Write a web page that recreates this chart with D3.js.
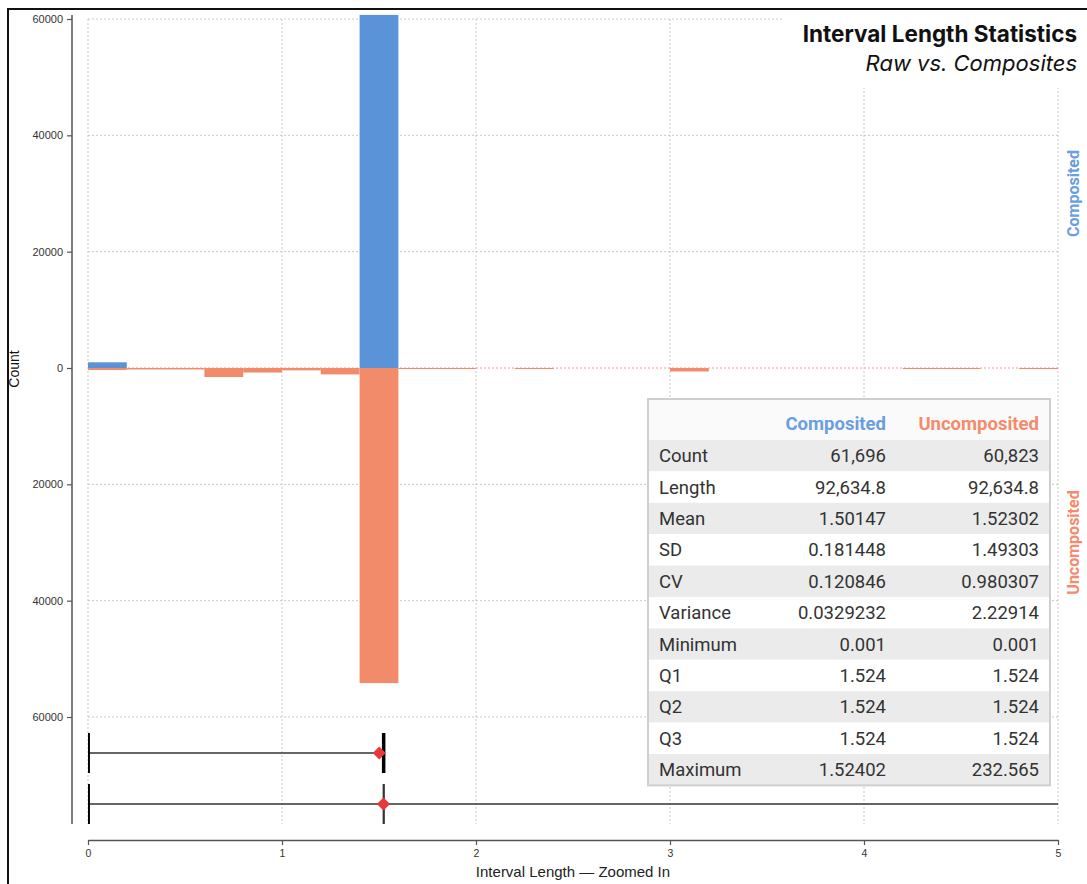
<!DOCTYPE html>
<html><head><meta charset="utf-8">
<script src="https://cdn.jsdelivr.net/npm/d3@7"></script>
<style>
html,body{margin:0;padding:0;background:#fff;}
svg{display:block;}
</style></head>
<body>
<svg id="chart" width="1087" height="884"></svg>
<script>
// ---------- DATA ----------
const binStarts = [0,0.2,0.4,0.6,0.8,1.0,1.2,1.4,1.6,1.8,2.0,2.2,2.4,2.6,2.8,3.0,3.2,3.4,3.6,3.8,4.0,4.2,4.4,4.6,4.8];
const binWidth = 0.2;
const compositedCounts   = [980,0,0,0,0,0,0,60700,0,0,0,0,0,0,0,0,0,0,0,0,0,0,0,0,0];
const uncompositedCounts = [350,250,250,1550,780,400,1100,54170,150,150,0,150,0,0,0,600,0,0,0,0,0,40,40,0,40];

const yTicks = [60000,40000,20000,0,-20000,-40000,-60000];
const xTicks = [0,1,2,3,4,5];

const seriesNames = ["Composited","Uncomposited"];
const boxMin  = [0.001, 0.001];
const boxQ1   = [1.524, 1.524];
const boxQ2   = [1.524, 1.524];
const boxQ3   = [1.524, 1.524];
const boxMax  = [1.52402, 232.565];
const boxMean = [1.50147, 1.52302];

const statLabels = ["Count","Length","Mean","SD","CV","Variance","Minimum","Q1","Q2","Q3","Maximum"];
const compositedStats   = ["61,696","92,634.8","1.50147","0.181448","0.120846","0.0329232","0.001","1.524","1.524","1.524","1.52402"];
const uncompositedStats = ["60,823","92,634.8","1.52302","1.49303","0.980307","2.22914","0.001","1.524","1.524","1.524","232.565"];

const titleText = "Interval Length Statistics";
const subtitleText = "Raw vs. Composites";
const xTitle = "Interval Length \u2014 Zoomed In";
const yTitle = "Count";

// ---------- STYLE ----------
const blue = "#5a93d7", orange = "#f28b69";
const blueText = "#6a9ee0", orangeText = "#f58a6c";

const svg = d3.select("#chart");
const W = 1087, H = 884;

const x = d3.scaleLinear().domain([0,5]).range([88,1058]);
const y = d3.scaleLinear().domain([-60000,60000]).range([717,19]);
const plotTop = 15, plotBottom = 824;

// frame
svg.append("line").attr("x1",8).attr("x2",8).attr("y1",8).attr("y2",H).attr("stroke","#111").attr("stroke-width",2);
svg.append("line").attr("x1",8).attr("x2",W).attr("y1",9).attr("y2",9).attr("stroke","#111").attr("stroke-width",2);

svg.append("defs").append("clipPath").attr("id","plotclip")
  .append("rect").attr("x",x(0)).attr("y",0).attr("width",x(5)-x(0)).attr("height",plotBottom);

// grid
const grid = svg.append("g");
grid.selectAll(".vg").data(xTicks).join("line")
  .attr("x1",d=>x(d)).attr("x2",d=>x(d)).attr("y1",y(60000)).attr("y2",plotBottom)
  .attr("stroke","#c8c8c8").attr("stroke-width",1).attr("stroke-dasharray","2,2");
grid.selectAll(".hg").data(yTicks).join("line")
  .attr("x1",x(0)).attr("x2",x(5)).attr("y1",d=>y(d)).attr("y2",d=>y(d))
  .attr("stroke",d=>d===0?"#e8a08a":"#c8c8c8").attr("stroke-width",1).attr("stroke-dasharray","2,2");

// bars
const bars = svg.append("g").attr("clip-path","url(#plotclip)");
const binData = binStarts.map((s,i)=>({s, c:compositedCounts[i], u:uncompositedCounts[i]}));
bars.selectAll(".cb").data(binData.filter(d=>d.c>0)).join("rect")
  .attr("x",d=>x(d.s)).attr("width",d=>x(d.s+binWidth)-x(d.s))
  .attr("y",d=>y(d.c)).attr("height",d=>y(0)-y(d.c)).attr("fill",blue);
bars.selectAll(".ub").data(binData.filter(d=>d.u>0)).join("rect")
  .attr("x",d=>x(d.s)).attr("width",d=>x(d.s+binWidth)-x(d.s))
  .attr("y",y(0)).attr("height",d=>Math.max(1,y(-d.u)-y(0))).attr("fill",orange);

// box plots
const rowY = d3.scalePoint().domain(seriesNames).range([753,804]);
const half = 20;
const boxes = svg.append("g").attr("clip-path","url(#plotclip)");
seriesNames.forEach((name,i)=>{
  const cy = rowY(name);
  const g = boxes.append("g");
  g.append("line").attr("x1",x(boxMin[i])).attr("x2",x(Math.min(boxMax[i],5.5))).attr("y1",cy).attr("y2",cy)
    .attr("stroke","#333").attr("stroke-width",1.6);
  [boxQ1[i],boxQ2[i],boxQ3[i]].forEach(v=>{
    g.append("line").attr("x1",x(v)).attr("x2",x(v)).attr("y1",cy-half).attr("y2",cy+half)
      .attr("stroke","#333").attr("stroke-width",1.6);
  });
  if (boxQ3[i]>boxQ1[i]) {
    g.append("rect").attr("x",x(boxQ1[i])).attr("width",x(boxQ3[i])-x(boxQ1[i]))
      .attr("y",cy-half).attr("height",2*half).attr("fill","none").attr("stroke","#333");
  }
  [boxMin[i],boxMax[i]].forEach(v=>{
    g.append("line").attr("x1",x(v)).attr("x2",x(v)).attr("y1",cy-half).attr("y2",cy+half)
      .attr("stroke","#000").attr("stroke-width",3.5);
  });
  g.append("path").attr("d",d3.symbol(d3.symbolDiamond2? d3.symbolDiamond2: d3.symbolDiamond,110)())
    .attr("transform",`translate(${x(boxMean[i])},${cy})`).attr("fill","#e8383a");
});

// y axis
const axisFont = "Liberation Sans, Arial, sans-serif";
const yAxisG = svg.append("g").attr("transform",`translate(72,0)`);
yAxisG.append("line").attr("x1",0).attr("x2",0).attr("y1",plotTop).attr("y2",plotBottom).attr("stroke","#555").attr("stroke-width",1.5);
const yAxis = d3.axisLeft(y).tickValues(yTicks).tickFormat(d=>d3.format("d")(Math.abs(d))).tickSize(5).tickPadding(4);
yAxisG.call(yAxis);
yAxisG.select(".domain").remove();
yAxisG.selectAll(".tick line").attr("stroke","#555").attr("stroke-width",1.2);
yAxisG.selectAll(".tick text").attr("font-family",axisFont).attr("font-size",11).attr("fill","#333");

svg.append("text").attr("transform","translate(19,369) rotate(-90)").attr("text-anchor","middle")
  .attr("font-family",axisFont).attr("font-size",14).attr("fill","#111").text(yTitle);

// x axis
const xAxisG = svg.append("g").attr("transform",`translate(0,840)`);
const xAxis = d3.axisBottom(x).tickValues(xTicks).tickFormat(d3.format("d")).tickSize(5).tickSizeOuter(0).tickPadding(5);
xAxisG.call(xAxis);
xAxisG.select(".domain").attr("stroke","#555").attr("stroke-width",1.5);
xAxisG.selectAll(".tick line").attr("stroke","#555").attr("stroke-width",1.2);
xAxisG.selectAll(".tick text").attr("font-family",axisFont).attr("font-size",10.5).attr("fill","#333");
svg.append("text").attr("x",573).attr("y",877).attr("text-anchor","middle")
  .attr("font-family",axisFont).attr("font-size",15).attr("fill","#222").text(xTitle);

// title box
svg.append("rect").attr("x",782).attr("y",10).attr("width",W-782).attr("height",78).attr("fill","#fff");
svg.append("text").attr("x",1077).attr("y",42).attr("text-anchor","end")
  .attr("font-family","Inter, sans-serif").attr("font-weight","bold").attr("font-size",22.5).attr("fill","#111").text(titleText);
svg.append("text").attr("x",1077).attr("y",71).attr("text-anchor","end")
  .attr("font-family","Inter, sans-serif").attr("font-style","italic").attr("font-size",22).attr("fill","#111").text(subtitleText);

// side labels
svg.append("text").attr("transform",`translate(1079,${(y(60000)+y(0))/2}) rotate(-90)`).attr("text-anchor","middle")
  .attr("font-family","Roboto, sans-serif").attr("font-weight","bold").attr("font-size",16).attr("fill",blueText).text(seriesNames[0]);
svg.append("text").attr("transform",`translate(1079,${(y(-60000)+y(0))/2}) rotate(-90)`).attr("text-anchor","middle")
  .attr("font-family","Roboto, sans-serif").attr("font-weight","bold").attr("font-size",16).attr("fill",orangeText).text(seriesNames[1]);

// stats table
const tx = 648, ty = 399, tw = 402, headH = 41, rowH = 31.4;
const tbl = svg.append("g");
tbl.append("rect").attr("x",tx).attr("y",ty).attr("width",tw).attr("height",headH+rowH*statLabels.length).attr("fill","#fff");
tbl.append("rect").attr("x",tx).attr("y",ty).attr("width",tw).attr("height",headH).attr("fill","#fafafa");
tbl.selectAll(".row").data(statLabels).join("rect")
  .attr("x",tx).attr("y",(d,i)=>ty+headH+i*rowH).attr("width",tw).attr("height",rowH)
  .attr("fill",(d,i)=>i%2===0?"#ebebeb":"#ffffff");
tbl.append("rect").attr("x",tx).attr("y",ty).attr("width",tw).attr("height",headH+rowH*statLabels.length)
  .attr("fill","none").attr("stroke","#cfcfcf").attr("stroke-width",2);
const tFont = "Roboto, sans-serif";
const col1 = 886, col2 = 1039, colL = 659;
tbl.append("text").attr("x",col1).attr("y",ty+31).attr("text-anchor","end").attr("font-family",tFont)
  .attr("font-weight","bold").attr("font-size",18.5).attr("fill",blueText).text(seriesNames[0]);
tbl.append("text").attr("x",col2).attr("y",ty+31).attr("text-anchor","end").attr("font-family",tFont)
  .attr("font-weight","bold").attr("font-size",18.5).attr("fill",orangeText).text(seriesNames[1]);
const rowText = (arr, xx, anchor) => tbl.selectAll(null).data(arr).join("text")
  .attr("x",xx).attr("y",(d,i)=>ty+headH+i*rowH+rowH/2+6.5).attr("text-anchor",anchor)
  .attr("font-family",tFont).attr("font-size",18.5).attr("fill","#333").text(d=>d);
rowText(statLabels, colL, "start");
rowText(compositedStats, col1, "end");
rowText(uncompositedStats, col2, "end");
</script>
</body></html>
